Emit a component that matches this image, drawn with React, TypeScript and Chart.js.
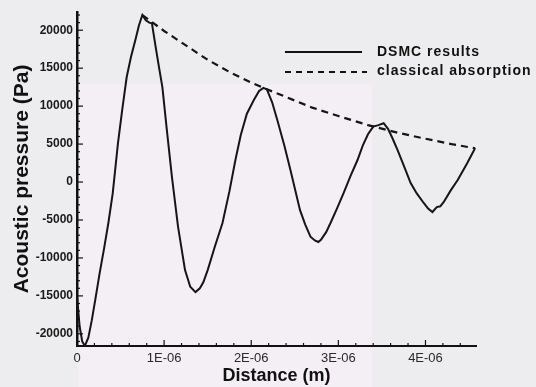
import { useEffect, useRef } from 'react';
import { Chart, registerables } from 'chart.js';

Chart.register(...registerables);

// DSMC results: distance (m) and acoustic pressure (Pa)
const dsmcX = [
  0.0, 0.03, 0.06, 0.09, 0.13, 0.17, 0.21, 0.26, 0.31, 0.36, 0.41, 0.47, 0.52, 0.57, 0.62, 0.67, 0.71, 0.75,
  0.79, 0.83, 0.86, 0.9, 0.94, 0.98, 1.03, 1.09, 1.16, 1.24, 1.3, 1.36, 1.41, 1.45, 1.5, 1.58, 1.67, 1.75,
  1.82, 1.88, 1.95, 2.03, 2.09, 2.14, 2.18, 2.24, 2.3, 2.38, 2.45, 2.56, 2.62, 2.68, 2.73, 2.77, 2.8, 2.86,
  2.91, 2.98, 3.06, 3.14, 3.22, 3.28, 3.34, 3.4, 3.46, 3.52, 3.57, 3.62, 3.68, 3.75, 3.83, 3.9, 3.98, 4.03,
  4.08, 4.13, 4.17, 4.21, 4.29, 4.37, 4.43, 4.48, 4.53, 4.57,
].map((v) => v * 1e-6);
const dsmcY = [
  -15000, -19000, -21000, -21600, -20500, -18200, -15500, -12000, -8800, -5400, -1500, 5100, 9600, 13800, 16500, 18700, 20600, 22000,
  21300, 21000, 20900, 18000, 15200, 12500, 7000, 650, -5900, -11600, -13800, -14500, -14000, -13200, -11600, -8600, -5400, -1200,
  3000, 6200, 9000, 10800, 12000, 12400, 12200, 10500, 8150, 4800, 1580, -3700, -5600, -7200, -7700, -7900, -7600, -6600,
  -5400, -3600, -1450, 800, 2900, 4800, 6300, 7300, 7500, 7750, 7000, 5800, 4200, 2200, -130, -1500, -2760, -3500,
  -3950, -3300, -3200, -2630, -1100, 260, 1500, 2500, 3600, 4470,
];

// Classical absorption envelope
const absX = [0.75, 1.0, 1.25, 1.5, 1.75, 2.0, 2.14, 2.4, 2.7, 3.0, 3.34, 3.68, 4.0, 4.3, 4.57].map((v) => v * 1e-6);
const absY = [22000, 19900, 18000, 16100, 14500, 13100, 12400, 11200, 9800, 8700, 7500, 6500, 5700, 5000, 4450];

const xTickValues = [0, 1e-6, 2e-6, 3e-6, 4e-6];
const xTickLabels = ['0', '1E-06', '2E-06', '3E-06', '4E-06'];
const yTickValues = [-20000, -15000, -10000, -5000, 0, 5000, 10000, 15000, 20000];
const yTickLabels = ['-20000', '-15000', '-10000', '-5000', '0', '5000', '10000', '15000', '20000'];
const seriesLabels = ['DSMC results', 'classical absorption'];

const X_MIN = 0;
const X_MAX = 4.58e-6;
const Y_MIN = -21600;
const Y_MAX = 22400;

export default function App() {
  const ref = useRef<HTMLCanvasElement | null>(null);

  useEffect(() => {
    document.body.style.margin = '0';
    const canvas = ref.current;
    if (!canvas) return;

    const bgPlugin = {
      id: 'bg',
      beforeDraw(chart: any) {
        const ctx = chart.ctx;
        ctx.save();
        ctx.fillStyle = '#ededef';
        ctx.fillRect(0, 0, chart.width, chart.height);
        ctx.fillStyle = '#f4eff5';
        ctx.fillRect(78, 84, 294, chart.height - 84);
        ctx.restore();
      },
    };

    const ticksPlugin = {
      id: 'insideTicks',
      afterDraw(chart: any) {
        const ctx = chart.ctx;
        const xs = chart.scales.x;
        const ys = chart.scales.y;
        const { left, bottom } = chart.chartArea;
        ctx.save();
        ctx.strokeStyle = '#111';
        ctx.lineWidth = 1.2;
        for (let v = -21000; v <= 22000; v += 1000) {
          const py = ys.getPixelForValue(v);
          const len = v % 5000 === 0 ? 6 : 3;
          ctx.beginPath();
          ctx.moveTo(left, py);
          ctx.lineTo(left + len, py);
          ctx.stroke();
        }
        for (let i = 0; i <= 22; i++) {
          const px = xs.getPixelForValue(i * 0.2e-6);
          const len = i % 5 === 0 ? 6 : 3;
          ctx.beginPath();
          ctx.moveTo(px, bottom);
          ctx.lineTo(px, bottom - len);
          ctx.stroke();
        }
        ctx.restore();
      },
    };

    const legendPlugin = {
      id: 'customLegend',
      afterDraw(chart: any) {
        const ctx = chart.ctx;
        ctx.save();
        ctx.strokeStyle = '#111';
        ctx.lineWidth = 2.2;
        ctx.beginPath();
        ctx.moveTo(285, 52);
        ctx.lineTo(362, 52);
        ctx.stroke();
        ctx.setLineDash([6, 5]);
        ctx.beginPath();
        ctx.moveTo(285, 72);
        ctx.lineTo(367, 72);
        ctx.stroke();
        ctx.setLineDash([]);
        ctx.fillStyle = '#111';
        ctx.font = 'bold 14px "Liberation Sans", Arial, sans-serif';
        ctx.textBaseline = 'middle';
        ctx.textAlign = 'left';
        (ctx as any).letterSpacing = '1px';
        ctx.fillText(seriesLabels[0], 377, 52);
        ctx.fillText(seriesLabels[1], 377, 71);
        ctx.restore();
      },
    };

    const chart = new Chart(canvas, {
      type: 'line',
      data: {
        datasets: [
          {
            label: seriesLabels[0],
            data: dsmcX.map((x, i) => ({ x, y: dsmcY[i] })),
            borderColor: '#151515',
            borderWidth: 2,
            pointRadius: 0,
            tension: 0,
            fill: false,
          },
          {
            label: seriesLabels[1],
            data: absX.map((x, i) => ({ x, y: absY[i] })),
            borderColor: '#151515',
            borderWidth: 2.2,
            borderDash: [7, 5],
            pointRadius: 0,
            tension: 0,
            fill: false,
          },
        ],
      },
      options: {
        animation: false,
        responsive: false,
        layout: { padding: { top: 12, right: 60, left: 0, bottom: 0 } },
        plugins: { legend: { display: false }, tooltip: { enabled: false } },
        scales: {
          x: {
            type: 'linear',
            min: X_MIN,
            max: X_MAX,
            afterBuildTicks: (s: any) => {
              s.ticks = xTickValues.map((v) => ({ value: v }));
            },
            afterFit: (s: any) => {
              s.height = 41;
            },
            grid: { display: true, drawOnChartArea: false, drawTicks: false },
            border: { display: true, color: '#111', width: 2 },
            ticks: {
              autoSkip: false,
              maxRotation: 0,
              padding: 5,
              color: '#2a2a2a',
              font: { family: '"Liberation Sans", Arial, sans-serif', size: 13 },
              callback: (v: any) => {
                const i = xTickValues.findIndex((t) => Math.abs(t - v) < 1e-12);
                return i >= 0 ? xTickLabels[i] : '';
              },
            },
            title: {
              display: true,
              text: 'Distance (m)',
              color: '#111',
              font: { family: '"Liberation Sans", Arial, sans-serif', size: 18, weight: 'bold' },
              padding: { top: 0, bottom: 0 },
            },
          },
          y: {
            type: 'linear',
            min: Y_MIN,
            max: Y_MAX,
            afterBuildTicks: (s: any) => {
              s.ticks = yTickValues.map((v) => ({ value: v }));
            },
            afterFit: (s: any) => {
              s.width = 77;
            },
            grid: { display: true, drawOnChartArea: false, drawTicks: false },
            border: { display: true, color: '#111', width: 2.5 },
            ticks: {
              autoSkip: false,
              padding: 4,
              color: '#1a1a1a',
              font: { family: '"Liberation Sans", Arial, sans-serif', size: 12, weight: 'bold' },
              callback: (v: any) => {
                const i = yTickValues.indexOf(Number(v));
                return i >= 0 ? yTickLabels[i] : '';
              },
            },
            title: {
              display: true,
              text: 'Acoustic pressure (Pa)',
              color: '#111',
              font: { family: '"Liberation Sans", Arial, sans-serif', size: 21, weight: 'bold' },
              padding: { top: 10, bottom: 0 },
            },
          },
        },
      },
      plugins: [bgPlugin, ticksPlugin, legendPlugin],
    });

    return () => chart.destroy();
  }, []);

  return <canvas ref={ref} width={536} height={387} style={{ display: 'block' }} />;
}
